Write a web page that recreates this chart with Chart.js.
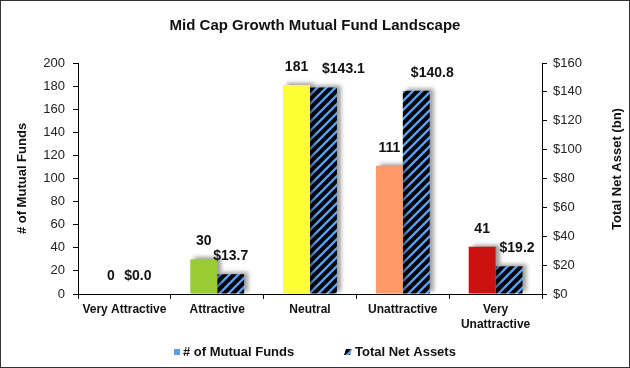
<!DOCTYPE html>
<html>
<head>
<meta charset="utf-8">
<script src="https://cdn.jsdelivr.net/npm/chart.js@4"></script>
<style>
  html, body { margin: 0; padding: 0; background: #fff; }
  #wrap { width: 630px; height: 368px; }
</style>
</head>
<body>
<div id="wrap"><canvas id="fundChart" width="630" height="368"></canvas></div>
<script>
/* Mid cap growth fund landscape, drawn with Chart.js */

// data
const ratings = ['Very Attractive', 'Attractive', 'Neutral', 'Unattractive', ['Very', 'Unattractive']];
const fundCounts = [0, 30, 181, 111, 41];
const netAssets = [0.0, 13.7, 143.1, 140.8, 19.2];
const fundTicks = [0, 20, 40, 60, 80, 100, 120, 140, 160, 180, 200];
const assetTicks = [0, 20, 40, 60, 80, 100, 120, 140, 160];
const seriesNames = ['# of Mutual Funds', 'Total Net Assets'];

// styling
const ratingColors = ['#5B9BF0', '#99CC33', '#FFFF33', '#FF9966', '#CC1111'];
const stripeBlue = '#5B9FF2';
const assetLabelShift = [0, 0, 20, 16, 8];
const FONT = '"Liberation Sans", Arial, sans-serif';

// black / blue diagonal hatch
function makeHatch() {
  const n = 9;
  const c = document.createElement('canvas');
  c.width = n; c.height = n;
  const g = c.getContext('2d');
  g.fillStyle = '#000';
  g.fillRect(0, 0, n, n);
  g.strokeStyle = stripeBlue;
  g.lineWidth = 2.4;
  g.beginPath();
  g.moveTo(-n / 2, n / 2); g.lineTo(n / 2, -n / 2);
  g.moveTo(0, n); g.lineTo(n, 0);
  g.moveTo(n / 2, n * 1.5); g.lineTo(n * 1.5, n / 2);
  g.stroke();
  return document.getElementById('fundChart').getContext('2d').createPattern(c, 'repeat');
}
const hatch = makeHatch();

// bar shadows, value labels, legend, right-hand title and frame
const extras = {
  id: 'extras',
  beforeDatasetsDraw(chart) {
    const ctx = chart.ctx;
    ctx.save();
    ctx.shadowColor = 'rgba(0,0,0,0.38)';
    ctx.shadowBlur = 4;
    ctx.shadowOffsetX = 4;
    ctx.shadowOffsetY = -2;
  },
  afterDatasetsDraw(chart) {
    const ctx = chart.ctx;
    ctx.restore();
    ctx.save();
    ctx.font = 'bold 14px ' + FONT;
    ctx.fillStyle = '#111';
    ctx.textAlign = 'center';
    ctx.textBaseline = 'bottom';
    chart.getDatasetMeta(0).data.forEach((bar, i) => {
      ctx.fillText(String(fundCounts[i]), bar.x, bar.y - 11);
    });
    chart.getDatasetMeta(1).data.forEach((bar, i) => {
      ctx.fillText('$' + netAssets[i].toFixed(1), bar.x + assetLabelShift[i], bar.y - 11);
    });
    ctx.restore();
  },
  afterDraw(chart) {
    const ctx = chart.ctx;
    ctx.save();
    ctx.font = 'bold 13px ' + FONT;
    ctx.fillStyle = '#111';
    ctx.textAlign = 'center';
    ctx.textBaseline = 'middle';
    ctx.translate(617, 169);
    ctx.rotate(-Math.PI / 2);
    ctx.fillText('Total Net Asset (bn)', 0, 0);
    ctx.restore();

    // legend
    ctx.save();
    ctx.font = 'bold 13px ' + FONT;
    ctx.fillStyle = '#111';
    ctx.textAlign = 'left';
    ctx.textBaseline = 'middle';
    const ly = 352;
    ctx.fillStyle = '#5B9BF0';
    ctx.fillRect(174, ly - 3, 6, 6);
    ctx.fillStyle = '#111';
    ctx.fillText(seriesNames[0], 183, ly);
    ctx.fillStyle = hatch;
    ctx.beginPath();
    ctx.moveTo(346, ly - 3); ctx.lineTo(352, ly - 3);
    ctx.lineTo(350, ly + 3); ctx.lineTo(344, ly + 3);
    ctx.closePath();
    ctx.fill();
    ctx.fillStyle = '#111';
    ctx.fillText(seriesNames[1], 355, ly);
    ctx.restore();

    ctx.save();
    ctx.strokeStyle = '#333';
    ctx.lineWidth = 1;
    ctx.strokeRect(0.5, 0.5, chart.width - 1, chart.height - 1);
    ctx.restore();
  }
};

const fundCtx = document.getElementById('fundChart');

const fundConfig = {
  type: 'bar',
  data: {
    labels: ratings,
    datasets: [{
      label: seriesNames[0],
      data: fundCounts,
      backgroundColor: ratingColors,
      yAxisID: 'y',
      categoryPercentage: 0.58,
      barPercentage: 1
    }, {
      label: seriesNames[1],
      data: netAssets,
      backgroundColor: hatch,
      yAxisID: 'y1',
      categoryPercentage: 0.58,
      barPercentage: 1
    }]
  },
  options: {
    responsive: false,
    animation: false,
    layout: { padding: { left: 0, right: 0, top: 0, bottom: 32 } },
    plugins: {
      title: {
        display: true,
        text: 'Mid Cap Growth Mutual Fund Landscape',
        color: '#111',
        font: { family: FONT, size: 15, weight: 'bold', lineHeight: 1.2 },
        padding: { top: 17, bottom: 28 }
      },
      legend: { display: false },
      tooltip: { enabled: false }
    },
    scales: {
      x: {
        grid: { drawOnChartArea: false, tickLength: 5, color: '#000', offset: true },
        border: { color: '#000', width: 1 },
        ticks: {
          color: '#111',
          font: { family: FONT, size: 12, weight: 'bold', lineHeight: 1.25 },
          padding: 3,
          maxRotation: 0,
          autoSkip: false
        },
        afterFit: (s) => { s.height = 42; }
      },
      y: {
        position: 'left',
        min: 0,
        max: 200,
        afterBuildTicks: (s) => { s.ticks = fundTicks.map(v => ({ value: v })); },
        grid: { drawOnChartArea: false, tickLength: 5, color: '#000' },
        border: { color: '#000', width: 1 },
        ticks: { color: '#222', font: { family: FONT, size: 13 }, padding: 8 },
        title: {
          display: true,
          text: '# of Mutual Funds',
          color: '#111',
          font: { family: FONT, size: 13, weight: 'bold', lineHeight: 1.2 },
          padding: { top: 15, bottom: 0 }
        },
        afterFit: (s) => { s.width = 78; }
      },
      y1: {
        position: 'right',
        min: 0,
        max: 160,
        afterBuildTicks: (s) => { s.ticks = assetTicks.map(v => ({ value: v })); },
        grid: { drawOnChartArea: false, tickLength: 5, color: '#000' },
        border: { color: '#000', width: 1 },
        ticks: { color: '#222', font: { family: FONT, size: 13 }, padding: 6, callback: (v) => '$' + v },
        afterFit: (s) => { s.width = 88; }
      }
    }
  },
  plugins: [extras]
};

new Chart(fundCtx, fundConfig);
</script>
</body>
</html>
